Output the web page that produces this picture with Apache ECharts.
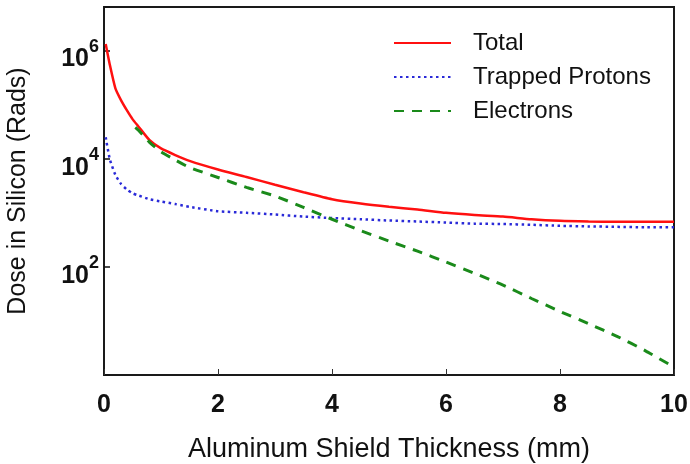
<!DOCTYPE html>
<html>
<head>
<meta charset="utf-8">
<script src="https://cdn.jsdelivr.net/npm/echarts@6/dist/echarts.min.js"></script>
<style>
html,body{margin:0;padding:0;background:#fff;}
#chart{width:690px;height:464px;}
</style>
</head>
<body>
<div id="chart"></div>
<script>
// Shield thickness (mm) sample points
var thickness = [0.03, 0.1, 0.2, 0.3, 0.4, 0.5, 0.6, 0.8, 1.0, 1.25, 1.5, 2, 2.5, 3, 3.5, 4, 4.5, 5, 5.5, 6, 6.5, 7, 7.5, 8, 8.5, 9, 9.5, 10];
// Total dose (rads)
var totalDose = [1320000, 560000, 200000, 120000, 79000, 54000, 40000, 22000, 15500, 11700, 9100, 6300, 4600, 3300, 2400, 1780, 1480, 1290, 1150, 1000, 910, 850, 760, 710, 690, 680, 680, 680];
// Trapped proton dose (rads)
var protonDose = [25000, 10000, 5000, 3400, 2700, 2300, 2100, 1780, 1620, 1450, 1290, 1070, 1000, 930, 850, 800, 760, 720, 690, 660, 630, 620, 600, 575, 560, 550, 540, 540];
// Electron dose (rads), starts at 0.55 mm
var electronThickness = [0.55, 0.6, 0.8, 1.0, 1.25, 1.5, 2, 2.5, 3, 3.5, 4, 4.5, 5, 5.5, 6, 6.5, 7, 7.5, 8, 8.5, 9, 9.5, 10];
var electronDose = [38000, 34000, 20000, 13500, 9500, 6900, 4500, 2950, 2040, 1260, 760, 470, 300, 195, 123, 76, 46, 26, 15, 8.9, 5.2, 2.8, 1.4];
// Axis ticks
var xTicks = [0, 2, 4, 6, 8, 10];
var yTickExponents = [2, 4, 6];
var seriesNames = ['Total', 'Trapped Protons', 'Electrons'];

function pairs(xs, ys) { return xs.map(function (x, i) { return [x, ys[i]]; }); }

var FONT = 'Liberation Sans, Arial, Helvetica, sans-serif';
var chart = echarts.init(document.getElementById('chart'));
chart.setOption({
  animation: false,
  backgroundColor: '#fff',
  grid: {
    left: 104, top: 7, right: 16, bottom: 89,
    outerBoundsMode: 'none', containLabel: false,
    show: true, borderColor: '#1a1a1a', borderWidth: 2, backgroundColor: 'transparent'
  },
  legend: {
    orient: 'vertical',
    left: 388, top: 26,
    itemWidth: 57, itemHeight: 14, itemGap: 10,
    data: seriesNames,
    itemStyle: { opacity: 0 },
    textStyle: { fontFamily: FONT, fontSize: 24, color: '#111', padding: [0, 0, 0, 17], lineHeight: 24 }
  },
  xAxis: {
    type: 'value', min: 0, max: 10, interval: 2,
    name: 'Aluminum Shield Thickness (mm)',
    nameLocation: 'middle', nameGap: 61,
    nameTextStyle: { fontFamily: FONT, fontSize: 27, color: '#111' },
    axisLine: { show: false },
    axisTick: { show: true, inside: true, length: 6, lineStyle: { color: '#333', width: 1 } },
    axisLabel: {
      margin: 18, fontFamily: FONT, fontSize: 25, fontWeight: 'bold', color: '#111',
      formatter: function (v) { return xTicks.indexOf(v) >= 0 ? String(v) : ''; }
    },
    splitLine: { show: false }
  },
  yAxis: {
    type: 'log', logBase: 10, min: 1, max: 6400000, interval: 2,
    name: 'Dose in Silicon (Rads)',
    nameLocation: 'middle', nameGap: 73, nameRotate: 90,
    nameTextStyle: { fontFamily: FONT, fontSize: 25, color: '#111' },
    axisLine: { show: false },
    axisTick: { show: true, inside: true, length: 6, lineStyle: { color: '#111', width: 1.5 } },
    minorTick: { show: false },
    axisLabel: {
      margin: 5,
      padding: [9, 0, 0, 0],
      formatter: function (v) {
        var e = Math.round(Math.log(v) / Math.LN10);
        if (yTickExponents.indexOf(e) < 0) return '';
        return '{b|10}{s|' + e + '}';
      },
      rich: {
        b: { fontFamily: FONT, fontSize: 25, fontWeight: 'bold', color: '#111', lineHeight: 34, verticalAlign: 'bottom' },
        s: { fontFamily: FONT, fontSize: 18, fontWeight: 'bold', color: '#111', lineHeight: 34, verticalAlign: 'top' }
      }
    },
    splitLine: { show: false }
  },
  series: [
    {
      name: seriesNames[0], type: 'line', data: pairs(thickness, totalDose),
      symbol: 'none', showSymbol: false, smooth: 0.2,
      lineStyle: { color: '#ff1010', width: 2.5 }, itemStyle: { color: '#ff1010' }
    },
    {
      name: seriesNames[1], type: 'line', data: pairs(thickness, protonDose),
      symbol: 'none', showSymbol: false, smooth: 0.2,
      lineStyle: { color: '#2a2ad8', width: 2.5, type: [2.5, 3.5] }, itemStyle: { color: '#2a2ad8' }
    },
    {
      name: seriesNames[2], type: 'line', data: pairs(electronThickness, electronDose),
      symbol: 'none', showSymbol: false, smooth: 0.2,
      lineStyle: { color: '#1a8a1a', width: 3, type: [10, 8] }, itemStyle: { color: '#1a8a1a' }
    }
  ]
});
</script>
</body>
</html>
